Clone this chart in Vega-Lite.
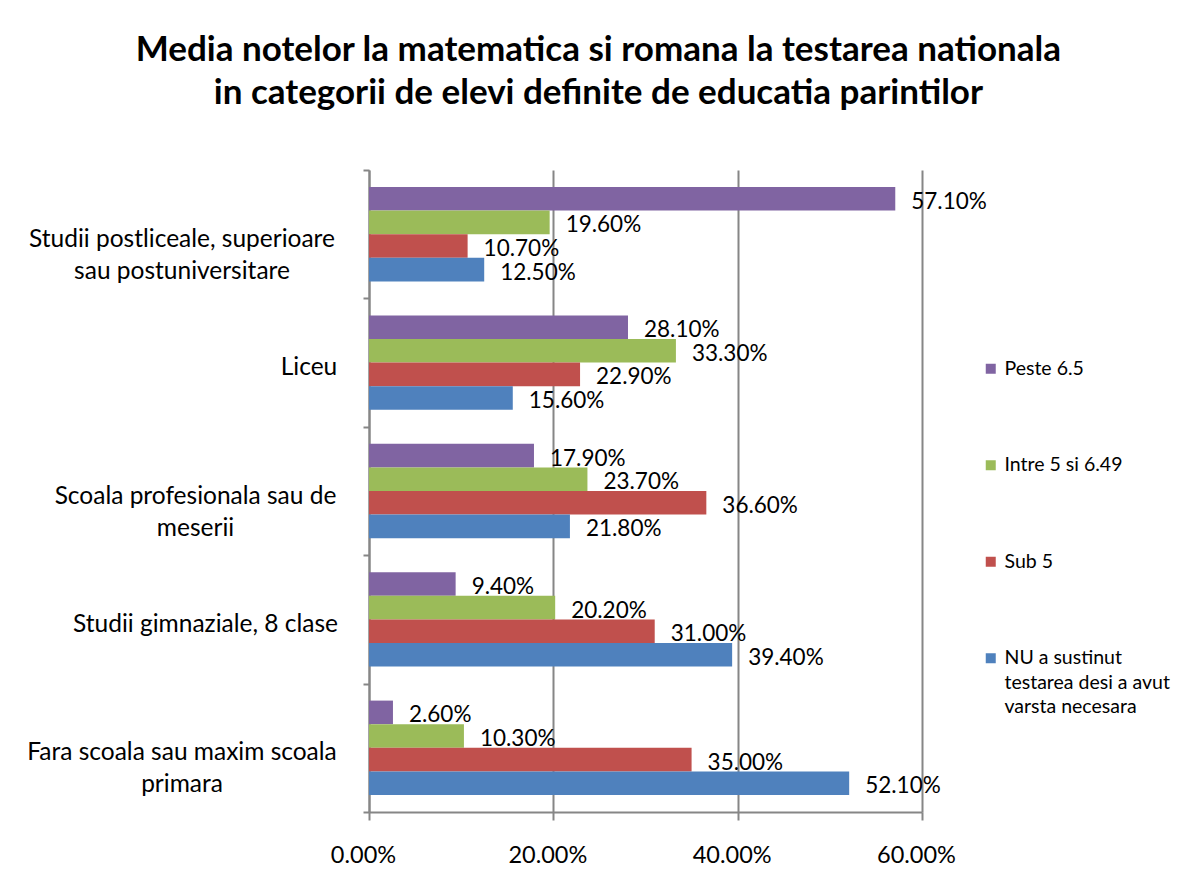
{
  "$schema": "https://vega.github.io/schema/vega-lite/v6.json",
  "width": 553,
  "height": 642,
  "autosize": "none",
  "padding": {"left": 369, "top": 170, "right": 280, "bottom": 78},
  "background": "white",
  "title": {
    "text": ["Media notelor la matematica si romana la testarea nationala", "in categorii de elevi definite de educatia parintilor"],
    "font": "Lato", "fontSize": 35, "fontWeight": "bold", "color": "black",
    "anchor": "middle", "frame": "bounds", "offset": 46, "lineHeight": 43
  },
  "config": {
    "view": {"stroke": null},
    "font": "Lato"
  },
  "data": {
    "values": [
      {"cat": "Studii postliceale, superioare sau postuniversitare", "grp": "Peste 6.5", "v": 0.571},
      {"cat": "Studii postliceale, superioare sau postuniversitare", "grp": "Intre 5 si 6.49", "v": 0.196},
      {"cat": "Studii postliceale, superioare sau postuniversitare", "grp": "Sub 5", "v": 0.107},
      {"cat": "Studii postliceale, superioare sau postuniversitare", "grp": "NU a sustinut testarea desi a avut varsta necesara", "v": 0.125},
      {"cat": "Liceu", "grp": "Peste 6.5", "v": 0.281},
      {"cat": "Liceu", "grp": "Intre 5 si 6.49", "v": 0.333},
      {"cat": "Liceu", "grp": "Sub 5", "v": 0.229},
      {"cat": "Liceu", "grp": "NU a sustinut testarea desi a avut varsta necesara", "v": 0.156},
      {"cat": "Scoala profesionala sau de meserii", "grp": "Peste 6.5", "v": 0.179},
      {"cat": "Scoala profesionala sau de meserii", "grp": "Intre 5 si 6.49", "v": 0.237},
      {"cat": "Scoala profesionala sau de meserii", "grp": "Sub 5", "v": 0.366},
      {"cat": "Scoala profesionala sau de meserii", "grp": "NU a sustinut testarea desi a avut varsta necesara", "v": 0.218},
      {"cat": "Studii gimnaziale, 8 clase", "grp": "Peste 6.5", "v": 0.094},
      {"cat": "Studii gimnaziale, 8 clase", "grp": "Intre 5 si 6.49", "v": 0.202},
      {"cat": "Studii gimnaziale, 8 clase", "grp": "Sub 5", "v": 0.31},
      {"cat": "Studii gimnaziale, 8 clase", "grp": "NU a sustinut testarea desi a avut varsta necesara", "v": 0.394},
      {"cat": "Fara scoala sau maxim scoala primara", "grp": "Peste 6.5", "v": 0.026},
      {"cat": "Fara scoala sau maxim scoala primara", "grp": "Intre 5 si 6.49", "v": 0.103},
      {"cat": "Fara scoala sau maxim scoala primara", "grp": "Sub 5", "v": 0.35},
      {"cat": "Fara scoala sau maxim scoala primara", "grp": "NU a sustinut testarea desi a avut varsta necesara", "v": 0.521}
    ]
  },
  "encoding": {
    "y": {
      "field": "cat", "type": "nominal",
      "sort": ["Studii postliceale, superioare sau postuniversitare", "Liceu", "Scoala profesionala sau de meserii", "Studii gimnaziale, 8 clase", "Fara scoala sau maxim scoala primara"],
      "scale": {"paddingInner": 0, "paddingOuter": 0},
      "axis": {
        "title": null,
        "domainColor": "#868686", "domainWidth": 2,
        "tickColor": "#868686", "tickWidth": 2, "tickSize": 6, "tickBand": "extent",
        "labelFont": "Lato", "labelFontSize": 24.5, "labelColor": "black",
        "labelAlign": "center", "labelBaseline": "middle", "labelLineHeight": 32,
        "labelLimit": 400, "labelOffset": 5,
        "labelPadding": {
          "condition": [
            {"test": "datum.value == 'Liceu'", "value": 54.5},
            {"test": "datum.value == 'Scoala profesionala sau de meserii'", "value": 168},
            {"test": "datum.value == 'Studii gimnaziale, 8 clase'", "value": 158},
            {"test": "datum.value == 'Fara scoala sau maxim scoala primara'", "value": 181.5}
          ],
          "value": 181.5
        },
        "labelExpr": "datum.value == 'Studii postliceale, superioare sau postuniversitare' ? ['Studii postliceale, superioare', 'sau postuniversitare'] : datum.value == 'Scoala profesionala sau de meserii' ? ['Scoala profesionala sau de', 'meserii'] : datum.value == 'Fara scoala sau maxim scoala primara' ? ['Fara scoala sau maxim scoala', 'primara'] : datum.value"
      }
    },
    "yOffset": {
      "field": "grp", "type": "nominal",
      "sort": ["Peste 6.5", "Intre 5 si 6.49", "Sub 5", "NU a sustinut testarea desi a avut varsta necesara"],
      "scale": {"paddingInner": 0, "paddingOuter": 0.72}
    },
    "x": {
      "field": "v", "type": "quantitative",
      "scale": {"domain": [0, 0.6], "nice": false},
      "axis": {
        "title": null, "values": [0, 0.2, 0.4, 0.6], "format": ".2%",
        "domainColor": "#868686", "domainWidth": 2,
        "tickColor": "#868686", "tickWidth": 2, "tickSize": 8,
        "grid": true, "gridColor": "#868686", "gridWidth": 2,
        "labelFont": "Lato", "labelFontSize": 23.5, "labelColor": "black", "labelPadding": 23,
        "labelFlush": false, "labelOffset": -6
      }
    }
  },
  "layer": [
    {
      "mark": {"type": "bar"},
      "encoding": {
        "color": {
          "field": "grp", "type": "nominal",
          "scale": {
            "domain": ["Peste 6.5", "Intre 5 si 6.49", "Sub 5", "NU a sustinut testarea desi a avut varsta necesara"],
            "range": ["#8064A2", "#9BBB59", "#C0504D", "#4F81BD"]
          },
          "legend": {
            "title": null, "orient": "none", "legendX": 612, "legendY": 189,
            "symbolType": "square", "symbolSize": 100, "symbolStrokeWidth": 0,
            "labelFont": "Lato", "labelFontSize": 19.5, "labelColor": "black",
            "labelLimit": 300, "rowPadding": 75.5, "labelOffset": 4,
            "labelExpr": "datum.label == 'NU a sustinut testarea desi a avut varsta necesara' ? ['NU a sustinut', 'testarea desi a avut', 'varsta necesara'] : datum.label",
            "encode": {"labels": {"update": {"lineHeight": {"value": 24.5}}}}
          }
        }
      }
    },
    {
      "mark": {"type": "text", "align": "left", "baseline": "middle", "dx": 16, "dy": 3, "font": "Lato", "fontSize": 22.5, "color": "black"},
      "encoding": {
        "text": {"field": "v", "type": "quantitative", "format": ".2%"}
      }
    }
  ]
}
